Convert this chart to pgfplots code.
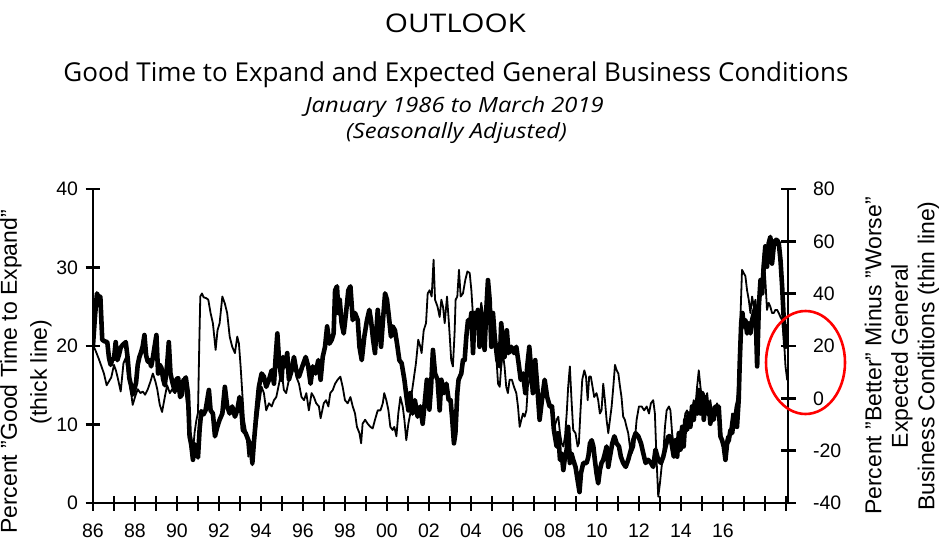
\documentclass[border=0pt]{standalone}
\usepackage{fontspec}
\setmainfont{Liberation Sans}
\newfontfamily\opensans{Open Sans}
\usepackage{pgfplots}
\usepackage{pgfplotstable}
\pgfplotsset{compat=1.18}

\pgfplotstableread{
x y
1986.00 20.1
1986.10 24.0
1986.19 26.7
1986.29 26.0
1986.35 26.3
1986.44 20.8
1986.55 20.6
1986.68 20.5
1986.76 18.5
1986.84 17.6
1986.92 18.3
1987.00 18.4
1987.08 20.5
1987.16 18.2
1987.24 18.9
1987.32 19.8
1987.40 20.1
1987.56 20.5
1987.65 18.5
1987.73 15.9
1987.81 15.0
1987.89 13.8
1987.97 14.5
1988.05 15.3
1988.13 17.6
1988.21 18.6
1988.29 19.2
1988.37 20.0
1988.45 21.4
1988.53 18.8
1988.61 18.0
1988.69 18.2
1988.77 17.4
1988.85 18.5
1989.02 21.4
1989.10 16.5
1989.18 17.6
1989.26 17.2
1989.34 15.8
1989.42 15.0
1989.53 17.6
1989.61 20.5
1989.69 16.5
1989.77 15.5
1989.90 14.2
1989.98 15.8
1990.06 15.9
1990.15 13.5
1990.23 13.8
1990.31 15.5
1990.42 16.0
1990.52 14.0
1990.60 8.5
1990.68 7.4
1990.76 5.5
1990.84 7.5
1990.92 6.8
1991.00 5.8
1991.08 9.5
1991.16 11.7
1991.27 11.3
1991.36 11.8
1991.52 14.4
1991.60 11.8
1991.71 11.4
1991.81 8.5
1991.92 9.7
1992.03 10.6
1992.16 11.4
1992.28 14.8
1992.39 12.3
1992.51 11.4
1992.63 12.3
1992.76 11.0
1992.87 11.8
1992.98 13.5
1993.08 11.4
1993.14 9.3
1993.27 8.9
1993.40 8.0
1993.51 7.2
1993.59 5.1
1993.66 7.6
1993.78 11.4
1993.90 14.8
1994.03 16.5
1994.14 16.1
1994.25 14.8
1994.38 15.7
1994.51 16.9
1994.62 15.2
1994.70 18.6
1994.78 21.6
1994.86 18.2
1994.98 15.7
1995.05 18.6
1995.14 17.4
1995.25 19.1
1995.33 15.7
1995.46 16.9
1995.57 18.6
1995.68 16.9
1995.81 16.1
1995.97 17.4
1996.13 18.6
1996.25 17.4
1996.36 15.2
1996.47 17.4
1996.60 16.5
1996.73 18.2
1996.84 15.7
1996.94 18.6
1997.05 19.9
1997.15 22.5
1997.26 20.3
1997.37 20.8
1997.46 21.6
1997.53 27.1
1997.62 27.6
1997.69 24.2
1997.75 25.9
1997.84 22.9
1997.94 21.6
1998.05 24.2
1998.16 27.1
1998.26 27.6
1998.37 23.3
1998.48 24.2
1998.61 23.3
1998.69 19.9
1998.80 18.2
1998.92 21.2
1999.05 23.3
1999.16 24.6
1999.24 23.3
1999.34 20.8
1999.43 19.1
1999.56 24.6
1999.64 22.0
1999.72 19.9
1999.81 23.3
1999.91 26.7
2000.00 25.9
2000.11 23.3
2000.19 21.2
2000.27 22.5
2000.38 22.0
2000.48 20.3
2000.59 18.2
2000.70 17.8
2000.83 15.7
2000.95 13.1
2001.02 11.8
2001.11 14.0
2001.22 11.4
2001.33 13.1
2001.46 11.0
2001.59 12.3
2001.70 10.1
2001.81 13.1
2001.90 15.7
2002.02 11.9
2002.10 14.8
2002.19 19.5
2002.29 16.5
2002.41 15.7
2002.51 11.8
2002.59 15.7
2002.72 14.0
2002.83 15.2
2002.94 13.1
2003.03 13.1
2003.11 10.6
2003.19 7.6
2003.26 8.9
2003.35 14.0
2003.41 15.7
2003.54 16.5
2003.62 18.2
2003.70 18.2
2003.78 21.2
2003.86 23.3
2003.94 22.5
2004.02 24.2
2004.10 19.1
2004.17 24.2
2004.25 22.9
2004.33 24.6
2004.41 19.9
2004.49 24.2
2004.57 22.5
2004.65 19.5
2004.73 24.6
2004.81 28.4
2004.89 25.9
2004.97 19.9
2005.05 24.2
2005.13 21.2
2005.26 18.2
2005.37 17.4
2005.44 22.9
2005.52 20.8
2005.60 18.6
2005.71 22.0
2005.79 19.1
2005.92 19.9
2006.05 19.1
2006.16 19.9
2006.27 17.8
2006.37 15.7
2006.48 16.5
2006.59 14.0
2006.68 17.4
2006.78 19.9
2006.87 16.9
2006.95 14.0
2007.06 18.2
2007.16 14.8
2007.27 10.6
2007.38 13.1
2007.51 15.7
2007.63 13.5
2007.75 12.3
2007.86 12.3
2007.95 9.3
2008.08 7.2
2008.16 8.9
2008.24 5.5
2008.32 6.3
2008.40 4.2
2008.48 5.9
2008.56 6.8
2008.63 9.7
2008.71 5.1
2008.79 6.3
2008.87 5.5
2008.98 4.6
2009.08 2.9
2009.17 1.4
2009.24 3.8
2009.35 5.1
2009.51 5.1
2009.59 5.9
2009.67 7.6
2009.75 8.0
2009.83 7.2
2009.90 5.5
2009.98 3.8
2010.06 2.5
2010.14 4.2
2010.22 5.1
2010.30 5.5
2010.38 6.3
2010.46 7.2
2010.54 4.6
2010.62 5.9
2010.73 7.6
2010.83 8.5
2010.94 7.6
2011.05 7.2
2011.14 5.9
2011.25 5.1
2011.37 4.6
2011.49 5.5
2011.62 6.8
2011.73 8.0
2011.84 8.9
2011.97 8.5
2012.10 7.6
2012.21 6.3
2012.32 5.1
2012.44 5.5
2012.57 5.1
2012.68 4.6
2012.79 6.8
2012.92 5.5
2013.05 5.1
2013.16 5.9
2013.27 7.2
2013.40 8.5
2013.50 8.5
2013.58 7.2
2013.66 5.9
2013.74 8.0
2013.82 5.9
2013.90 8.9
2013.98 6.8
2014.06 9.7
2014.13 7.2
2014.21 10.6
2014.29 9.3
2014.37 11.4
2014.45 9.7
2014.53 12.3
2014.61 10.6
2014.69 12.7
2014.77 11.4
2014.85 14.4
2014.93 11.4
2015.01 14.0
2015.09 10.6
2015.17 13.5
2015.25 11.4
2015.33 12.7
2015.40 10.1
2015.48 11.8
2015.56 10.6
2015.64 12.3
2015.72 11.4
2015.80 12.3
2015.88 8.5
2015.96 8.0
2016.04 7.2
2016.12 5.5
2016.20 7.6
2016.28 8.0
2016.36 9.3
2016.44 8.9
2016.52 10.6
2016.60 11.4
2016.67 9.7
2016.75 13.1
2016.80 17.8
2016.87 22.9
2016.93 24.2
2016.99 22.5
2017.07 23.3
2017.15 21.6
2017.23 22.9
2017.31 21.6
2017.39 23.3
2017.47 24.2
2017.55 25.0
2017.63 17.4
2017.71 25.0
2017.79 28.4
2017.87 26.7
2017.94 30.1
2018.02 32.7
2018.10 30.1
2018.18 33.1
2018.26 33.9
2018.34 30.5
2018.42 32.7
2018.50 33.5
2018.58 33.5
2018.66 33.1
2018.74 31.0
2018.82 27.6
2018.90 23.3
2018.98 19.9
2019.06 22.5
2019.13 21.2
}\expand

\pgfplotstableread{
x y
1986.00 20.3
1986.11 18.5
1986.27 15.2
1986.39 12.5
1986.52 9.5
1986.65 5.0
1986.76 6.5
1986.87 8.0
1987.00 12.8
1987.10 10.4
1987.19 7.4
1987.32 2.6
1987.45 13.4
1987.56 15.5
1987.68 8.0
1987.77 5.0
1987.89 -2.5
1988.00 0.5
1988.13 3.5
1988.26 2.0
1988.37 2.6
1988.48 1.4
1988.61 3.5
1988.74 6.5
1988.85 9.5
1988.97 6.5
1989.06 3.5
1989.18 -2.5
1989.29 -5.2
1989.42 0.5
1989.53 5.0
1989.66 2.0
1989.77 3.5
1989.90 2.0
1990.03 5.0
1990.15 3.5
1990.26 7.4
1990.39 3.5
1990.50 -4.0
1990.60 -13.0
1990.68 -14.5
1990.76 -20.5
1990.84 -13.0
1990.92 -8.5
1991.00 -5.5
1991.06 20.0
1991.11 38.9
1991.19 40.1
1991.27 38.6
1991.39 38.3
1991.49 37.7
1991.60 32.6
1991.71 28.7
1991.84 18.5
1991.93 26.0
1992.03 28.7
1992.16 38.9
1992.28 36.2
1992.39 32.6
1992.51 23.6
1992.63 19.7
1992.76 17.3
1992.87 23.6
1992.95 20.9
1993.03 12.2
1993.11 2.0
1993.19 -8.2
1993.30 -13.3
1993.40 -22.3
1993.47 -17.2
1993.59 -25.6
1993.66 -18.4
1993.78 -10.9
1993.90 -3.1
1994.03 4.4
1994.14 2.0
1994.25 -4.6
1994.38 -1.9
1994.51 -3.1
1994.62 -0.7
1994.73 0.5
1994.86 5.6
1994.98 10.7
1995.09 3.2
1995.20 2.0
1995.33 7.1
1995.46 9.5
1995.57 13.4
1995.68 8.3
1995.81 5.6
1995.93 0.5
1996.05 -0.7
1996.16 2.0
1996.28 -4.6
1996.41 2.0
1996.52 0.5
1996.63 -1.9
1996.76 -3.1
1996.84 -7.6
1996.99 -1.9
1997.10 -0.7
1997.21 -3.1
1997.30 2.0
1997.42 3.2
1997.53 5.6
1997.65 7.1
1997.78 8.3
1997.89 4.4
1998.00 -0.7
1998.13 -1.9
1998.26 0.5
1998.37 -3.1
1998.48 -5.8
1998.57 -10.9
1998.69 -13.3
1998.77 -17.2
1998.84 -9.7
1998.96 -8.2
1999.08 -9.7
1999.21 -10.9
1999.32 -11.5
1999.43 -8.2
1999.56 -4.6
1999.69 -4.6
1999.80 -1.9
1999.87 2.0
1999.97 -0.7
2000.07 -4.6
2000.16 -10.9
2000.27 -12.1
2000.35 -10.9
2000.45 -14.5
2000.54 -5.8
2000.64 0.5
2000.75 -3.1
2000.83 -8.2
2000.92 -16.0
2001.02 -9.7
2001.11 -5.8
2001.18 2.0
2001.27 7.1
2001.38 13.4
2001.49 22.4
2001.59 19.7
2001.65 17.3
2001.75 26.0
2001.86 28.7
2001.94 40.1
2002.03 41.3
2002.13 38.9
2002.22 53.0
2002.29 37.7
2002.41 35.0
2002.51 31.1
2002.59 37.7
2002.67 35.0
2002.75 28.7
2002.86 38.9
2002.94 29.9
2003.00 22.4
2003.06 14.6
2003.14 12.2
2003.22 24.8
2003.27 37.7
2003.35 38.9
2003.43 49.1
2003.51 38.9
2003.62 40.1
2003.73 45.2
2003.83 48.5
2003.94 47.9
2004.02 41.3
2004.10 31.1
2004.17 29.9
2004.30 27.5
2004.41 29.9
2004.49 36.5
2004.62 29.9
2004.73 29.9
2004.84 29.9
2004.94 33.8
2005.05 29.9
2005.13 26.0
2005.21 15.8
2005.29 5.6
2005.37 4.4
2005.44 12.2
2005.52 17.3
2005.60 12.2
2005.68 4.4
2005.76 2.0
2005.84 7.1
2005.95 7.1
2006.05 4.4
2006.16 2.0
2006.24 -3.1
2006.32 -10.9
2006.40 -8.2
2006.48 -5.8
2006.56 -7.0
2006.64 -4.6
2006.71 4.4
2006.79 7.1
2006.87 12.2
2006.95 9.5
2007.03 6.5
2007.19 2.0
2007.35 -3.1
2007.51 4.4
2007.67 0.5
2007.83 -3.1
2007.98 -10.9
2008.08 -8.2
2008.16 -7.0
2008.24 -13.3
2008.32 -17.2
2008.40 -18.4
2008.48 -14.5
2008.56 -5.8
2008.63 4.4
2008.71 12.2
2008.79 -0.7
2008.87 -12.1
2008.98 -13.3
2009.08 -18.4
2009.14 -17.2
2009.21 -5.8
2009.30 7.1
2009.40 10.7
2009.48 8.3
2009.56 -0.7
2009.63 8.3
2009.71 8.3
2009.79 4.4
2009.87 0.5
2009.98 2.0
2010.06 -0.7
2010.14 -5.8
2010.22 -4.6
2010.30 5.6
2010.38 -0.7
2010.46 -8.2
2010.54 -13.3
2010.62 -8.2
2010.70 -3.1
2010.78 4.4
2010.86 12.8
2010.94 10.7
2011.02 9.5
2011.10 4.4
2011.17 0.5
2011.25 -7.0
2011.33 -8.2
2011.41 -10.9
2011.49 -13.3
2011.57 -18.4
2011.65 -21.1
2011.78 -18.4
2011.89 -8.2
2012.00 -3.1
2012.13 -3.1
2012.25 -4.6
2012.37 -3.1
2012.48 -5.8
2012.57 -1.9
2012.68 -0.7
2012.76 -5.8
2012.84 -23.5
2012.92 -37.6
2013.00 -32.5
2013.08 -26.2
2013.16 -21.1
2013.24 -10.9
2013.32 -4.6
2013.43 -3.1
2013.50 -4.6
2013.58 -13.3
2013.66 -18.4
2013.74 -21.1
2013.82 -22.3
2013.90 -16.0
2013.98 -12.1
2014.06 -16.0
2014.13 -10.9
2014.21 -5.8
2014.29 -4.6
2014.37 -8.2
2014.45 -5.8
2014.53 -4.6
2014.61 -0.7
2014.69 -3.1
2014.77 4.4
2014.85 10.7
2014.93 4.4
2015.01 -0.7
2015.09 2.0
2015.17 -3.1
2015.25 2.0
2015.33 -4.6
2015.40 -0.7
2015.48 -5.8
2015.56 -3.1
2015.64 -5.8
2015.72 -1.9
2015.80 -4.6
2015.88 -10.9
2015.96 -16.0
2016.04 -21.1
2016.12 -17.2
2016.20 -14.5
2016.28 -16.0
2016.36 -10.9
2016.44 -5.8
2016.52 -8.2
2016.60 -3.1
2016.67 -0.7
2016.75 7.1
2016.83 29.9
2016.91 49.1
2016.99 47.9
2017.07 46.7
2017.15 41.3
2017.23 37.7
2017.31 32.6
2017.39 38.9
2017.47 35.0
2017.55 37.7
2017.63 29.9
2017.71 35.0
2017.79 38.9
2017.87 47.9
2017.94 55.4
2018.02 45.2
2018.10 33.8
2018.18 36.5
2018.26 35.0
2018.34 32.6
2018.42 32.6
2018.50 33.8
2018.58 33.8
2018.66 32.6
2018.74 31.1
2018.82 29.9
2018.90 23.6
2018.98 12.2
2019.06 7.1
2019.13 8.3
}\better

\pgfplotsset{
  myaxis/.style={
    scale only axis,
    width=695pt, height=314pt,
    xmin=1986, xmax=2019.1,
    tick align=center,
    major tick length=15pt,
    tick style={line width=2.4pt, black},
    ticklabel style={font=\fontsize{19.5}{22}\selectfont},
  },
  noarrows/.style={
    axis line style={-, line width=2.4pt},
    x axis line style={-},
    y axis line style={-},
    every outer x axis line/.append style={-},
    every outer y axis line/.append style={-},
    every inner x axis line/.append style={-},
    every inner y axis line/.append style={-},
  }
}

\begin{document}
\begin{tikzpicture}
\useasboundingbox (-93pt,-47pt) rectangle (848pt,503pt);

\begin{axis}[myaxis,
  axis x line=bottom, axis y line=left, noarrows,
  ymin=0, ymax=40,
  ytick={0,10,20,30,40},
  yticklabels={0,10,20,30,40},
  xtick={1986,1987,...,2019},
  xticklabels={86,,88,,90,,92,,94,,96,,98,,00,,02,,04,,06,,08,,10,,12,,14,,16,,,,},
  xticklabel style={yshift=-10pt},
  yticklabel style={xshift=-4pt},
]
\addplot[black, line width=4.6pt, line join=round] table {\expand};
\end{axis}

\begin{axis}[myaxis,
  axis x line=none, axis y line=right, noarrows,
  ymin=-40, ymax=80,
  ytick={-40,-20,0,20,40,60,80},
  yticklabels={-40,-20,0,20,40,60,80},
  yticklabel style={xshift=14pt},
]
\addplot[black, line width=1.8pt, line join=round] table {\better};
\end{axis}

\draw[red, line width=2.6pt] (712.5pt,140.5pt) ellipse [x radius=39.5pt, y radius=51.5pt];

% titles
\node[font=\opensans\fontsize{25.7}{30}\selectfont, anchor=base, xscale=1.16] at (362.5pt,470pt) {OUTLOOK};
\node[font=\opensans\fontsize{26}{30}\selectfont, anchor=base] at (363pt,421pt) {Good Time to Expand and Expected General Business Conditions};
\node[font=\opensans\itshape\fontsize{21}{24}\selectfont, anchor=base, xscale=1.13] at (361.5pt,391pt) {January 1986 to March 2019};
\node[font=\opensans\itshape\fontsize{21}{24}\selectfont, anchor=base, xscale=1.13] at (363.5pt,365pt) {(Seasonally Adjusted)};

% axis labels
\node[font=\fontsize{23}{30}\selectfont, rotate=90, align=center] at (-67pt,131pt) {Percent "Good Time to Expand"\\(thick line)};
\node[font=\fontsize{23}{26.5}\selectfont, rotate=90, align=center] at (809pt,147pt) {Percent "Better" Minus "Worse"\\Expected General\\Business Conditions (thin line)};
\end{tikzpicture}
\end{document}
